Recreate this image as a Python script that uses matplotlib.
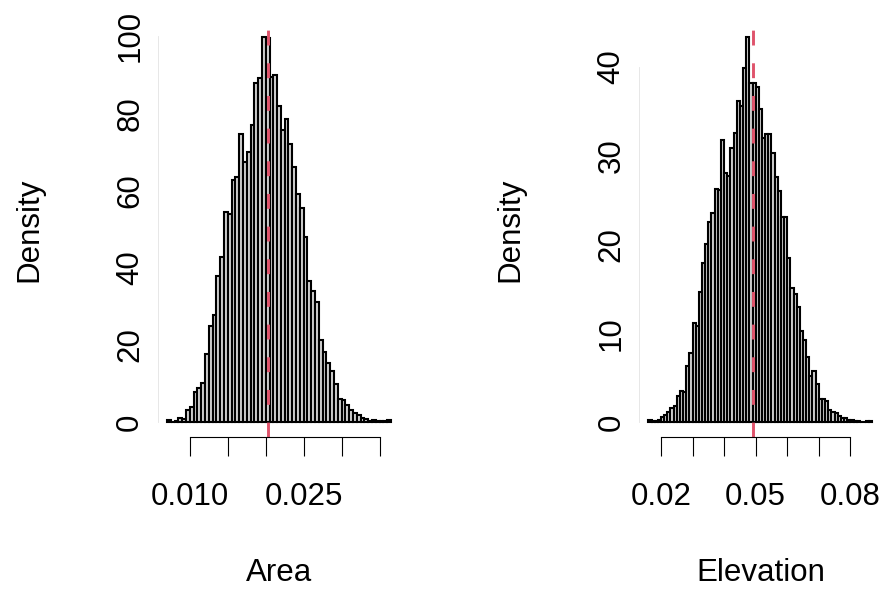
import matplotlib
matplotlib.use("Agg")
import matplotlib.pyplot as plt
import numpy as np

plt.rcParams['font.family'] = ['Liberation Sans', 'DejaVu Sans']
plt.rcParams['font.size'] = 22.5

# histogram densities
area_start = 0.007
area_bin = 0.0005
area_density = [0.6, 0.1, 0.2, 1.0, 0.8, 3.1, 3.9, 7.9, 8.7, 10.2,
                17.6, 24.9, 27.7, 37.7, 42.7, 54.4, 53.9, 62.8, 63.6, 74.5,
                67.4, 70.0, 77.0, 87.9, 89.2, 99.8, 99.4, 89.4, 90.0, 82.0,
                75.6, 78.4, 72.1, 66.0, 59.0, 55.5, 47.9, 36.5, 34.0, 31.0,
                21.2, 18.2, 15.3, 13.2, 9.8, 5.9, 5.6, 4.3, 3.0, 2.4,
                1.8, 1.1, 0.9, 0.3, 0.4, 0.3, 0.2, 0.2, 0.4]
area_mark = 0.0203
area_xticks = [0.010, 0.015, 0.020, 0.025, 0.030, 0.035]
area_xlabels = ["0.010", "", "", "0.025", "", ""]
area_yticks = [0, 20, 40, 60, 80, 100]

elev_start = 0.016
elev_bin = 0.001
elev_density = [0.2, 0.15, 0.1, 0.2, 0.6, 0.8, 1.1, 1.6, 1.8, 2.9,
                3.5, 3.4, 6.3, 7.8, 11.2, 10.8, 14.7, 17.9, 20.1, 22.5,
                23.5, 26.2, 26.1, 31.8, 28.1, 27.7, 30.9, 32.6, 36.2, 35.6,
                39.9, 43.4, 38.2, 38.2, 37.8, 35.3, 32.0, 32.4, 32.4, 30.3,
                27.6, 26.0, 23.1, 23.1, 18.5, 15.1, 14.4, 13.0, 10.3, 9.2,
                7.3, 5.2, 5.8, 4.3, 2.6, 2.6, 2.4, 1.3, 1.1, 1.0,
                0.7, 0.5, 0.4, 0.2, 0.2, 0.1, 0.1, 0.05, 0.05, 0.1,
                0.1]
elev_mark = 0.0492
elev_xticks = [0.02, 0.03, 0.04, 0.05, 0.06, 0.07, 0.08]
elev_xlabels = ["0.02", "", "", "0.05", "", "", "0.08"]
elev_yticks = [0, 10, 20, 30, 40]

W, H = 883, 589
fig = plt.figure(figsize=(W / 100, H / 100), dpi=100)

panels = [
    (158, "Area", area_start, area_bin, area_density, area_mark, area_xticks, area_xlabels, area_yticks),
    (639.4, "Elevation", elev_start, elev_bin, elev_density, elev_mark, elev_xticks, elev_xlabels, elev_yticks),
]

for left, xlab, start, bw, dens, mark, xt, xl, yt in panels:
    ax = fig.add_axes([left / W, 151.6 / H, 242 / W, 416 / H])
    dens = np.array(dens)
    edges = start + bw * np.arange(len(dens) + 1)
    ax.bar(edges[:-1], dens, width=bw, align='edge', color='#D3D3D3',
           edgecolor='black', linewidth=1.5)
    ax.axvline(mark, color='#DF536B', lw=2.1, linestyle=(0, (5.1, 6.1)),
               dash_capstyle='butt')

    x0, x1 = edges[0], edges[-1]
    dx = (x1 - x0) * 0.04
    ax.set_xlim(x0 - dx, x1 + dx)
    ymax = dens.max()
    ax.set_ylim(-0.04 * ymax, 1.04 * ymax)

    for s in ['top', 'right']:
        ax.spines[s].set_visible(False)
    ax.spines['bottom'].set_bounds(xt[0], xt[-1])
    ax.spines['left'].set_bounds(yt[0], yt[-1])
    ax.spines['bottom'].set_linewidth(0.8)
    ax.spines['left'].set_linewidth(0.6)
    ax.spines['left'].set_color('#E3E3E3')

    ax.set_xticks(xt)
    ax.set_xticklabels(xl)
    ax.set_yticks(yt)
    ax.set_yticklabels([str(v) for v in yt], rotation=90, va='center')
    ax.tick_params(axis='x', length=13.7, width=0.8, pad=18.5)
    ax.tick_params(axis='y', length=0, pad=9.2)

    ax.set_xlabel(xlab, va='baseline')
    ax.xaxis.set_label_coords(0.5, -0.345)
    ax.set_ylabel("Density", va='baseline')
    ax.yaxis.set_label_coords(-0.5, 0.5)

fig.savefig("out.png", dpi=100)
